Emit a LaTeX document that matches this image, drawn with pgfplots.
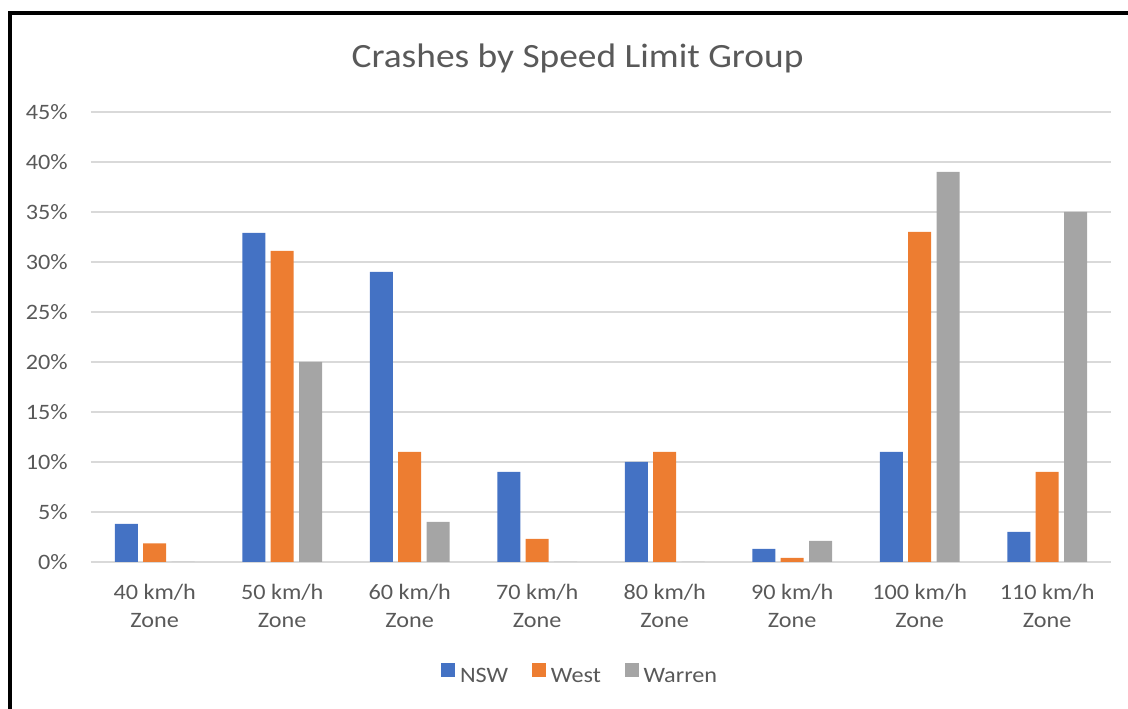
\documentclass[border=0pt]{standalone}
\usepackage{pgfplots}
\pgfplotsset{compat=1.18}
\usepackage{fontspec}
\setmainfont{Carlito}[FakeStretch=1.1]
\definecolor{nsw}{RGB}{68,114,196}
\definecolor{west}{RGB}{237,125,49}
\definecolor{warren}{RGB}{165,165,165}
\definecolor{txt}{RGB}{89,89,89}
\definecolor{gridc}{RGB}{217,217,217}
\begin{document}
\begin{tikzpicture}
\path[use as bounding box] (-68.25pt,-110.25pt) rectangle (777.75pt,421.5pt);
\clip (-68.25pt,-110.25pt) rectangle (777.75pt,421.5pt);
\begin{axis}[
  at={(0pt,0pt)}, anchor=south west,
  scale only axis, width=765pt, height=337.5pt,
  xmin=-0.5, xmax=7.5, ymin=0, ymax=45,
  ytick={0,5,...,45},
  yticklabel={\pgfmathprintnumber{\tick}\%},
  /pgf/number format/assume math mode=true,
  xtick={0,...,7},
  xticklabels={{40 km/h\\Zone},{50 km/h\\Zone},{60 km/h\\Zone},{70 km/h\\Zone},{80 km/h\\Zone},{90 km/h\\Zone},{100 km/h\\Zone},{110 km/h\\Zone}},
  major tick length=0pt,
  axis line style={draw=none},
  ymajorgrids, grid style={gridc, line width=1.1pt},
  ybar=3.95pt, bar width=17.25pt,
  ticklabel style={font=\fontsize{16.5}{21}\selectfont, text=txt},
  yticklabel style={anchor=east, inner sep=0pt, xshift=-17.25pt},
  xticklabel style={align=center, anchor=north, inner sep=0pt, yshift=-16.5pt},
  title={Crashes by Speed Limit Group},
  title style={font=\fontsize{25.5}{30}\selectfont, text=txt, at={(0.477,1.0822)}, anchor=base, inner sep=0pt, yshift=0pt},
  legend style={at={(0.4800,-0.251)}, anchor=center, draw=none, fill=none, legend columns=3,
     font=\fontsize{16.5}{21}\selectfont, text=txt,
     /tikz/every even column/.append style={column sep=16pt}},
  legend image code/.code={\fill[#1] (0pt,0pt) rectangle (10.5pt,10.5pt); \path (12pt,0pt);},
]
\addplot[fill=nsw, draw=none] coordinates {(0,3.8) (1,32.9) (2,29) (3,9) (4,10) (5,1.3) (6,11) (7,3)};
\addplot[fill=west, draw=none] coordinates {(0,1.85) (1,31.1) (2,11) (3,2.3) (4,11) (5,0.4) (6,33) (7,9)};
\addplot[fill=warren, draw=none] coordinates {(0,0) (1,20) (2,4) (3,0) (4,0) (5,2.1) (6,39) (7,35)};
\legend{NSW, West, Warren}
\end{axis}
\draw[line width=3pt, line join=miter] (-60.75pt,-120pt) -- (-60.75pt,411.4pt) -- (800pt,411.4pt);
\end{tikzpicture}
\end{document}
